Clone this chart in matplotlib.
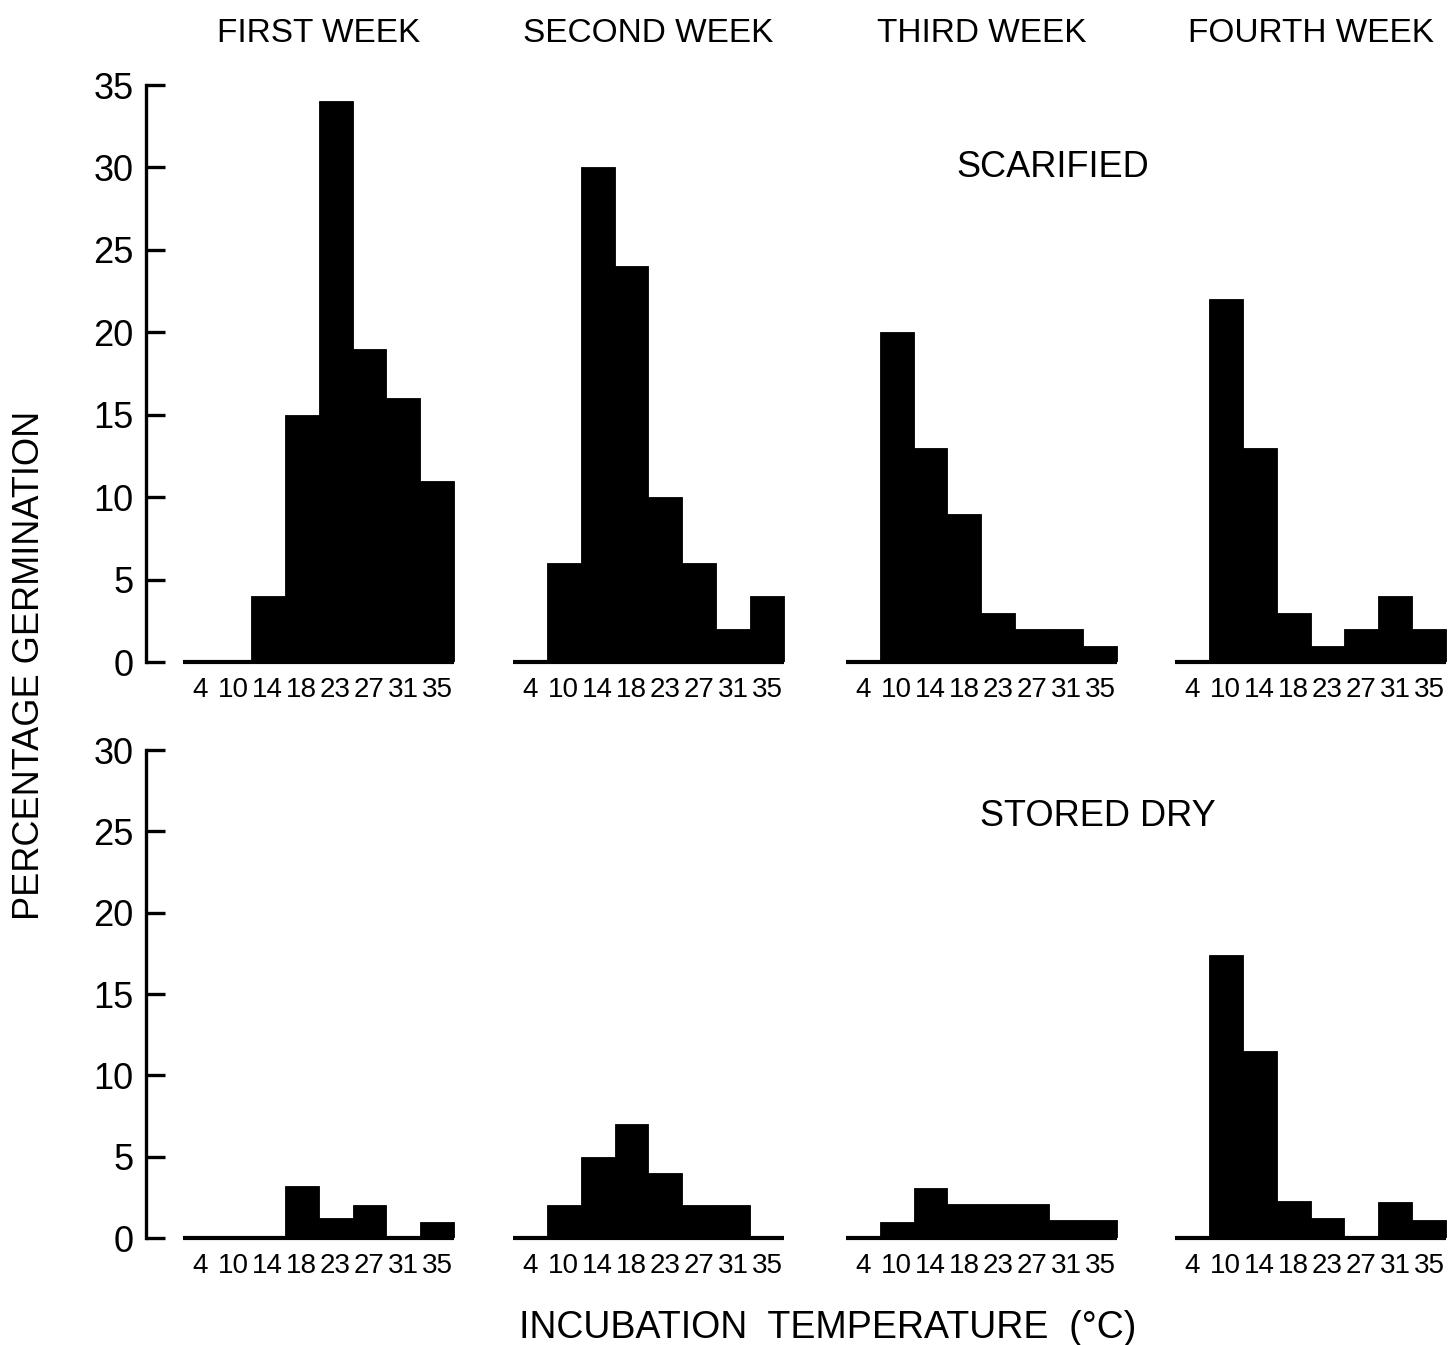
import matplotlib
matplotlib.use("Agg")
import matplotlib.pyplot as plt
import numpy as np

# incubation temperatures (deg C), one bar each
temps = ["4", "10", "14", "18", "23", "27", "31", "35"]
weeks = ["FIRST WEEK", "SECOND WEEK", "THIRD WEEK", "FOURTH WEEK"]

# percentage germination, scarified seeds
scarified_w1 = [0, 0, 4, 15, 34, 19, 16, 11]
scarified_w2 = [0, 6, 30, 24, 10, 6, 2, 4]
scarified_w3 = [0, 20, 13, 9, 3, 2, 2, 1]
scarified_w4 = [0, 22, 13, 3, 1, 2, 4, 2]

# percentage germination, seeds stored dry
stored_w1 = [0, 0, 0, 3.2, 1.2, 2.0, 0, 1.0]
stored_w2 = [0, 2, 5, 7, 4, 2, 2, 0]
stored_w3 = [0, 1, 3.1, 2.1, 2.1, 2.1, 1.1, 1.1]
stored_w4 = [0, 17.4, 11.5, 2.3, 1.2, 0, 2.2, 1.1]

plt.rcParams["font.family"] = ["Liberation Sans", "DejaVu Sans"]

W, H = 1448, 1345
fig = plt.figure(figsize=(W / 100, H / 100), dpi=100)

unit = 33.9                      # pixels per bar
axis_px = 146                    # x of the y-axis line
x0_px = 183                      # left edge of first panel
col_starts = [0, 9.73, 19.55, 29.26]
xlim = ((axis_px - x0_px) / unit, (W - x0_px) / unit)


def make_row(bottom_px, top_px, ymax, rows):
    ax = fig.add_axes([axis_px / W, 1 - bottom_px / H,
                       (W - axis_px) / W, (bottom_px - top_px) / H])
    ax.set_xlim(*xlim)
    ax.set_ylim(0, ymax)
    for side in ["top", "right", "bottom"]:
        ax.spines[side].set_visible(False)
    ax.spines["left"].set_linewidth(2.4)
    ax.set_yticks(np.arange(0, ymax + 1, 5))
    ax.tick_params(axis="y", direction="in", length=14, width=2.4,
                   labelsize=26, pad=9)

    centers, labels = [], []
    for start, vals in zip(col_starts, rows):
        pos = start + np.arange(len(vals)) + 0.5
        ax.bar(pos, vals, width=1.0, color="black", edgecolor="black",
               linewidth=0.6)
        ax.plot([start, start + len(vals)], [0, 0], color="black", lw=3,
                solid_capstyle="butt", clip_on=False)
        centers.extend(pos)
        labels.extend(temps)
    ax.set_xticks(centers)
    ax.set_xticklabels(labels)
    ax.tick_params(axis="x", length=0, labelsize=20, pad=11)
    return ax


ax_top = make_row(662, 85, 35,
                  [scarified_w1, scarified_w2, scarified_w3, scarified_w4])
ax_bot = make_row(1238, 750, 30,
                  [stored_w1, stored_w2, stored_w3, stored_w4])

for start, name in zip(col_starts, weeks):
    ax_top.text(start + 4, 35 + 3.1, name, ha="center", va="center",
                fontsize=24)

ax_top.text(25.66, 30.0, "SCARIFIED", ha="center", va="center", fontsize=26)
ax_bot.text(27.0, 25.9, "STORED DRY", ha="center", va="center", fontsize=26)

fig.text(30 / W, 1 - 665 / H, "PERCENTAGE GERMINATION", rotation=90,
         ha="center", va="center", fontsize=26)
fig.text(828 / W, 1 - 1328 / H, "INCUBATION  TEMPERATURE  (°C)",
         ha="center", va="center", fontsize=27)

fig.savefig("out.png", dpi=100, facecolor="white")
